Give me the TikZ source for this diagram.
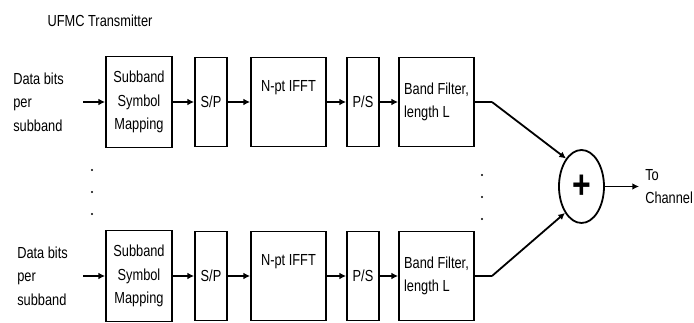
\documentclass[tikz,border=0pt]{standalone}
\usepackage{fontspec}
\setmainfont{Liberation Sans}[FakeStretch=0.8]
\usetikzlibrary{arrows.meta,shapes.geometric}

\begin{document}
\begin{tikzpicture}[
    x=0.75pt, y=-0.75pt,
    txt/.style={font=\fontsize{12}{17.5}\selectfont},
    blk/.style={txt, draw, line width=1.35pt, minimum height=66.75pt, inner sep=1pt, align=center},
    conn/.style={draw, line width=1.35pt, -{Latex[length=5pt,width=5pt]}},
    wire/.style={draw, line width=1.35pt},
    dot/.style={circle, fill=black, inner sep=0pt, minimum size=1.7pt}
  ]
  \useasboundingbox (0,0) rectangle (694,323);
  \node[txt] (title) at (100,21) {UFMC Transmitter};
  \foreach \r/\y/\d in {t/102/13, b/276/17} {
    \node[txt, anchor=west, align=left, inner sep=0pt] (data\r) at (\d,\y) {Data bits\\per\\subband};
    \coordinate (in\r) at (83,\y);
    \node[blk, minimum width=49.5pt, minimum height=68.25pt] (map\r) at (139,\y) {Subband\\Symbol\\Mapping};
    \node[blk, minimum width=24pt] (sp\r) at (211,\y) {S/P};
    \node[blk, minimum width=56.25pt] (ifft\r) at (288.5,\y) {};
    \node[txt] (ifftlbl\r) at (288.5,\y-14) {N-pt IFFT};
    \node[blk, minimum width=24pt] (ps\r) at (363,\y) {P/S};
    \node[blk, minimum width=56.25pt, align=left] (filt\r) at (436.5,\y) {Band Filter,\\length L};
    \coordinate (bend\r) at (492,\y);
    \draw[conn] (in\r) -- (map\r);
    \draw[conn] (map\r) -- (sp\r);
    \draw[conn] (sp\r) -- (ifft\r);
    \draw[conn] (ifft\r) -- (ps\r);
    \draw[conn] (ps\r) -- (filt\r);
  }
  \node[draw, ellipse, line width=1.35pt, minimum width=33.75pt, minimum height=54.75pt, inner sep=0pt] (sum) at (581.5,186.5) {\fontsize{30}{30}\selectfont\bfseries +};
  \draw[wire] (filtt.east) -- (bendt);
  \draw[conn] (bendt) -- (sum.119);
  \draw[wire] (filtb.east) -- (bendb);
  \draw[conn] (bendb) -- (sum.238);
  \coordinate (out) at (639,186.5);
  \draw[conn] (sum.east) -- (out);
  \node[txt, anchor=west, align=left, inner sep=0pt] (chan) at (645,186.5) {To\\Channel};
  \foreach \yy in {170,192,214} { \node[dot] (ldot\yy) at (92,\yy) {}; }
  \foreach \yy in {175,197,219} { \node[dot] (rdot\yy) at (482,\yy) {}; }
\end{tikzpicture}
\end{document}
